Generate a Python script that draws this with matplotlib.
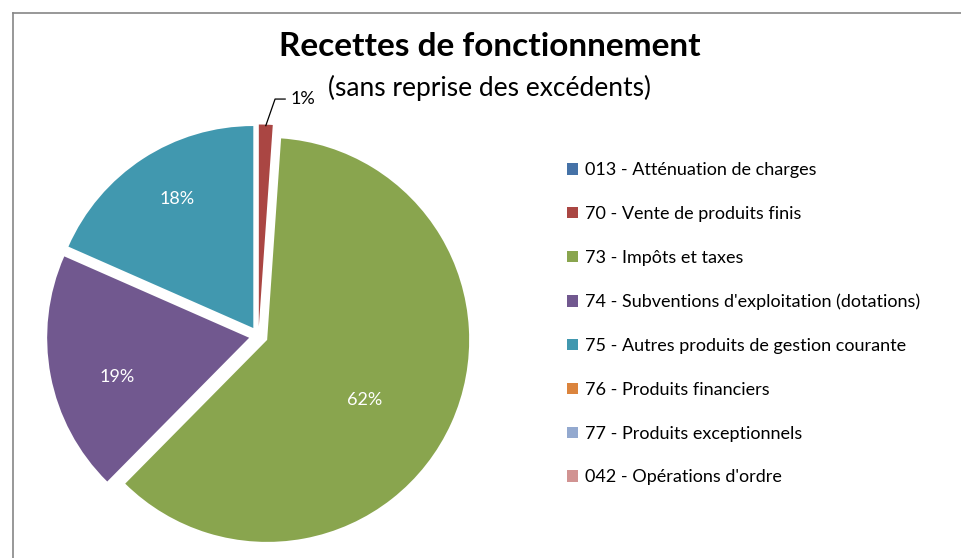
import numpy as np
import matplotlib
matplotlib.use("Agg")
import matplotlib.pyplot as plt
from matplotlib.lines import Line2D
from matplotlib.patches import Patch

# ---- data ----
categories = [
    "013 - Atténuation de charges",
    "70 - Vente de produits finis",
    "73 - Impôts et taxes",
    "74 - Subventions d'exploitation (dotations)",
    "75 - Autres produits de gestion courante",
    "76 - Produits financiers",
    "77 - Produits exceptionnels",
    "042 - Opérations d'ordre",
]
values = [0.0, 1.1, 61.3, 19.2, 18.4, 0.0, 0.0, 0.0]
pct_labels = ["", "1%", "62%", "19%", "18%", "", "", ""]
title = "Recettes de fonctionnement"
subtitle = "(sans reprise des excédents)"

# ---- style ----
colors = ["#4572A7", "#AA4643", "#89A54E", "#71588F", "#4198AF",
          "#DB843D", "#93A9CF", "#D19392"]
font = ["Lato", "DejaVu Sans"]
plt.rcParams["font.family"] = font

W, H = 961, 558
fig = plt.figure(figsize=(W / 100, H / 100), dpi=100)

# frame border
fig.add_artist(Line2D([13 / W, 1.0], [1 - 13 / H, 1 - 13 / H], color="#868686", lw=1.2))
fig.add_artist(Line2D([13 / W, 13 / W], [0, 1 - 13 / H], color="#868686", lw=1.2))

# pie axes: center (258.5, 336) px, radius 202 px
cx, cy, R = 258.5, 336.0, 202.0
lim = 1.1
half = lim * R
ax = fig.add_axes([(cx - half) / W, (H - (cy + half)) / H, 2 * half / W, 2 * half / H])
explode_d = 0.047
wedges, _ = ax.pie(values, colors=colors, startangle=90, counterclock=False,
                   explode=[explode_d] * len(values), radius=1.0,
                   wedgeprops=dict(linewidth=0))
ax.set_xlim(-lim, lim)
ax.set_ylim(-lim, lim)
ax.set_aspect("auto")
ax.axis("off")

# in-slice label placement (fraction of radius, angular nudge in degrees)
label_frac = {2: 0.565, 3: 0.68, 4: 0.74}
label_dang = {2: -7.4, 3: 5.75, 4: -2.45}
for i, w in enumerate(wedges):
    if not pct_labels[i]:
        continue
    mid = np.deg2rad((w.theta1 + w.theta2) / 2)
    ox, oy = explode_d * np.cos(mid), explode_d * np.sin(mid)
    if i in label_frac:
        a = mid + np.deg2rad(label_dang[i])
        r = label_frac[i]
        ax.text(ox + r * np.cos(a), oy + r * np.sin(a), pct_labels[i],
                ha="center", va="center", color="white", fontsize=13)
    else:
        # outside label with leader line
        px, py = ox + np.cos(mid), oy + np.sin(mid)
        ex, ey = 0.082, 1.173
        ax.plot([px, ex, ex + 0.05], [py - 0.005, ey, ey], color="black", lw=0.9,
                clip_on=False)
        ax.text(ex + 0.075, ey, pct_labels[i], ha="left", va="center",
                color="black", fontsize=13, clip_on=False)

# titles
fig.text(489.5 / W, 1 - 47 / H, title, ha="center", va="center",
         fontsize=24, fontweight="bold")
fig.text(489.5 / W, 1 - 88 / H, subtitle, ha="center", va="center", fontsize=19)

# legend
handles = [Patch(facecolor=c, edgecolor="none") for c in colors]
fig.legend(handles, categories, loc="upper left",
           bbox_to_anchor=(560 / W, 1 - 155 / H), frameon=False, fontsize=13,
           handlelength=0.6, handleheight=0.6, handletextpad=0.4,
           labelspacing=1.54, borderaxespad=0)

fig.savefig("out.png", dpi=100)
